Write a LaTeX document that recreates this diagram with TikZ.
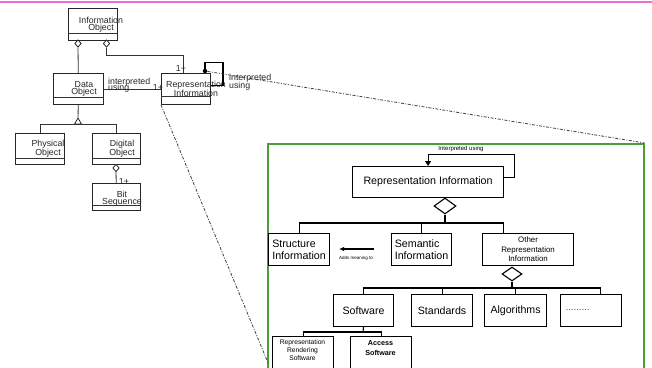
\documentclass[tikz,border=0pt]{standalone}
\usepackage{fontspec}
\setmainfont{Liberation Sans}
\usetikzlibrary{shapes.geometric,arrows.meta}
\definecolor{greenc}{rgb}{0.30,0.62,0.22}
\definecolor{pinkc}{rgb}{0.93,0.42,0.84}
\begin{document}
\begin{tikzpicture}[x=1pt,y=-1pt,
  obox/.style={draw=black!85,line width=0.8pt,inner sep=0pt,anchor=north west},
  oline/.style={draw=black!80,line width=0.8pt},
  otext/.style={inner sep=0pt,align=center,font=\fontsize{8.8}{6.8}\selectfont,text=black!85},
  olabel/.style={inner sep=0pt,font=\fontsize{8.8}{6.8}\selectfont,text=black!85},
  odia/.style={diamond,draw=black!85,line width=0.8pt,fill=white,inner sep=0pt,minimum width=6.5,minimum height=7.5},
  dashdot/.style={draw=black!75,line width=0.8pt,dash pattern=on 3pt off 1.5pt on 1pt off 1.5pt},
  nbox/.style={draw=black,line width=1.1pt,inner sep=0pt,anchor=north west},
  nline/.style={draw=black,line width=1.1pt},
  ndia/.style={diamond,draw=black,line width=1.1pt,fill=white,inner sep=0pt},
  bigfont/.style={font=\fontsize{10.7}{12}\selectfont},
  midfont/.style={font=\fontsize{10.6}{12}\selectfont},
]
\useasboundingbox (0,0) rectangle (652,367);
\clip (0,0) rectangle (652,367);
\draw[draw=pinkc,line width=1.6pt] (0,1.8) -- (652,1.8);

% ---------- old UML diagram ----------
\node[obox,minimum width=49,minimum height=32] (io) at (68,8) {};
\draw[oline] ([yshift=7pt]io.south west) -- ([yshift=7pt]io.south east);
\node[otext] (iot) at (101,25) {Information\\Object};

\node[obox,minimum width=50,minimum height=31] (do) at (53,73) {};
\draw[oline] ([yshift=7pt]do.south west) -- ([yshift=7pt]do.south east);
\node[otext] (dot-t) at (84,89) {Data\\Object};

\node[obox,minimum width=49,minimum height=31] (ri) at (161,73) {};
\draw[oline] ([yshift=8pt]ri.south west) -- ([yshift=8pt]ri.south east);
\node[otext] (ri-t) at (196,89) {Representation\\Information};

\node[obox,minimum width=49,minimum height=31] (po) at (15,133) {};
\draw[oline] ([yshift=6pt]po.south west) -- ([yshift=6pt]po.south east);
\node[otext] (po-t) at (48,148.5) {Physical\\Object};

\node[obox,minimum width=48,minimum height=31] (dob) at (92,133) {};
\draw[oline] ([yshift=6pt]dob.south west) -- ([yshift=6pt]dob.south east);
\node[otext] (dob-t) at (122,148.5) {Digital\\Object};

\node[obox,minimum width=48,minimum height=27] (bs) at (92,183) {};
\draw[oline] ([yshift=5pt]bs.south west) -- ([yshift=5pt]bs.south east);
\node[otext] (bs-t) at (122,198.5) {Bit\\Sequence};

% aggregation diamonds under Information Object
\node[odia] (iod1) at (78,43.5) {};
\node[odia] (iod2) at (106.5,43.5) {};
\draw[oline] (iod1) -- (do);
\draw[oline] (iod2.south) -- ++(0,8) -| ([xshift=-2.5pt]ri.north);
\node[olabel] (l1a) at (181,68) {1+};

% Data Object -> Representation Information
\draw[oline] (do) -- (ri);
\node[olabel,anchor=west] (l2a) at (108,82) {interpreted};
\node[olabel,anchor=west] (l2b) at (108,88.5) {using};
\node[olabel] (l2c) at (158,87.5) {1+};

% inheritance
\node[regular polygon,regular polygon sides=3,draw=black!85,line width=0.8pt,fill=white,inner sep=0pt,minimum size=8] (inh) at (78,122) {};
\draw[oline] (do) -- (inh);
\draw[oline] (po.north) |- (inh.south) -| (dob.north);

% Digital Object - Bit Sequence
\node[odia] (dd) at (116,168) {};
\draw[oline] (dd) -- (bs);
\node[olabel] (l3) at (124,181.5) {1+};

% self loop of Representation Information
\node[circle,fill=black,inner sep=0pt,minimum size=4.5] (rdot) at (205,71) {};
\draw[draw=black,line width=1.7pt] (rdot.center) |- (223,62.5) |- (ri.east |- 0,85.5);
\node[olabel,anchor=west] (l4a) at (229,78.5) {interpreted};
\node[olabel,anchor=west] (l4b) at (229,86) {using};

% ---------- zoomed view ----------
\node[draw=greenc,line width=1.6pt,minimum width=376,minimum height=240,anchor=north west,inner sep=0pt] (gb) at (267,143) {};
\coordinate (zl) at (268.5,364);
\draw[dashdot] (rdot) -- (gb.north east);
\draw[dashdot] (ri.south west) -- (zl);

\node[nbox,bigfont,minimum width=151,minimum height=31] (ri2) at (352,166) {Representation Information};
\draw[nline,-{Triangle[length=5pt,width=6pt]}] ([yshift=4.5pt]ri2.east) -- ++(10,0) -- ++(0,-23) -| (ri2.north);
\node[inner sep=0pt,font=\fontsize{6}{7}\selectfont] (iu) at (461,149) {Interpreted using};

\node[ndia,minimum width=22,minimum height=16] (nd1) at (445,206) {};
\coordinate (bus1) at (445,223);
\draw[nline] (nd1.south) -- (bus1);

\node[nbox,bigfont,minimum width=61,minimum height=32,align=left] (si) at (268,233) {Structure\\Information};
\node[nbox,bigfont,minimum width=60,minimum height=32,align=left] (sem) at (391,233) {Semantic\\Information};
\node[nbox,font=\fontsize{7.9}{9.5}\selectfont,minimum width=91,minimum height=32,align=center] (ori) at (482,233) {Other\\Representation\\Information};
\draw[nline] (si.north) |- (bus1);
\draw[nline] (sem.north) |- (bus1);
\draw[nline] ([xshift=-24.5pt]ori.north) |- (bus1);

\coordinate (am1) at (374,249);
\coordinate (am2) at (339,249);
\draw[draw=black,line width=1.2pt,-{Latex[length=5pt,width=4.5pt]}] (am1) -- (am2);
\node[inner sep=0pt,font=\fontsize{4.5}{5}\selectfont] (amt) at (356,258) {Adds meaning to};

\node[ndia,minimum width=20,minimum height=14] (nd2) at (512,274) {};
\coordinate (bus2) at (512,288);
\draw[nline] (nd2.south) -- (bus2);

\node[nbox,midfont,minimum width=60,minimum height=32] (sw) at (333,294) {Software};
\node[nbox,midfont,minimum width=61,minimum height=32] (st) at (411,294) {Standards};
\node[nbox,midfont,minimum width=62,minimum height=32] (al) at (484,294) {Algorithms};
\node[nbox,font=\fontsize{8}{9}\selectfont,minimum width=61,minimum height=32,text width=51,align=left] (dt) at (560,294) {………};
\draw[nline] (sw.north) |- (bus2);
\draw[nline] (st.north) |- (bus2);
\draw[nline] (al.north) |- (bus2);
\draw[nline] ([xshift=9.5pt]dt.north) |- (bus2);

\coordinate (bus3) at (363,332);
\node[nbox,minimum width=61,minimum height=50] (rrs) at (272,336) {};
\node[nbox,minimum width=61,minimum height=50] (acc) at (350,336) {};
\draw[nline] (sw.south) -- (bus3);
\draw[nline] (rrs.north) |- (bus3) -| (acc.north);
\node[inner sep=0pt,align=center,font=\fontsize{6.7}{8}\selectfont] (rrs-t) at (302.5,350.5) {Representation\\Rendering\\Software};
\node[inner sep=0pt,align=center,font=\bfseries\fontsize{7.2}{9.5}\selectfont] (acc-t) at (380.5,348) {Access\\Software};
\end{tikzpicture}
\end{document}
